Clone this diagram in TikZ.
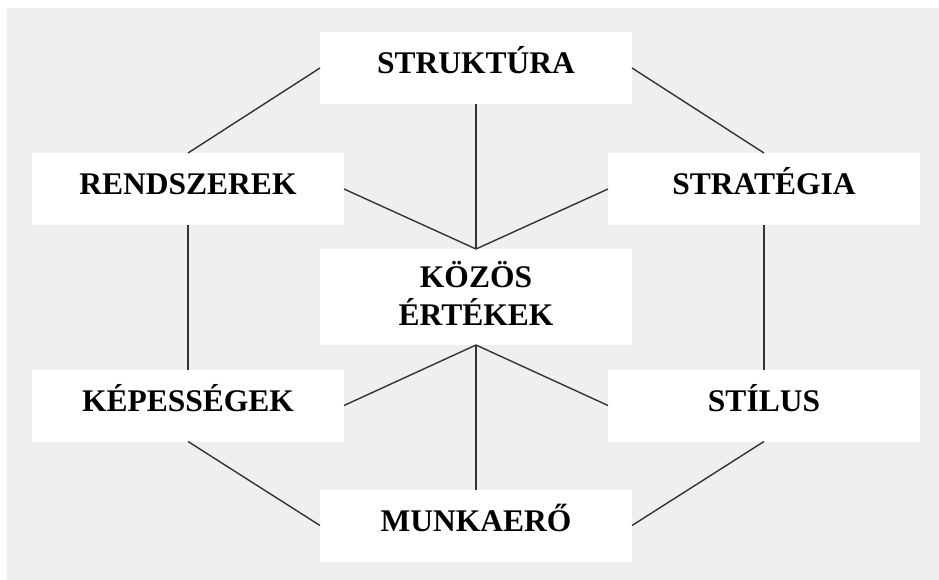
\documentclass[tikz,border=0pt]{standalone}
\usepackage{fontspec}
\setmainfont{Liberation Serif}
\usepackage{tikz}
\usetikzlibrary{positioning}

\definecolor{bggray}{HTML}{EFEFEF}
\definecolor{linegray}{HTML}{333333}

\begin{document}
\begin{tikzpicture}
	[x=1pt, y=-1pt, on grid,
	 box/.style = {fill=white, inner sep=0pt, outer sep=0pt, minimum width=312pt, minimum height=72pt,
	               text height=22pt, text depth=10pt,
	               align=center, font=\fontsize{31.5}{38}\selectfont\bfseries},
	 conn/.style = {draw=linegray, line width=1.4pt}]
   \useasboundingbox (0,0) rectangle (939,580);
   \fill[bggray] (7,8) rectangle (939,580);
   % center and the six around it
   \node[box, minimum height=96pt, text height=60pt, text depth=4pt] (kozos) at (476,297) {KÖZÖS\\ÉRTÉKEK};
   \node[box, above=229pt of kozos] (struktura) {STRUKTÚRA};
   \node[box, above left=108pt and 288pt of kozos] (rendszerek) {RENDSZEREK};
   \node[box, above right=108pt and 288pt of kozos] (strategia) {STRATÉGIA};
   \node[box, below left=108.5pt and 288pt of kozos] (kepessegek) {KÉPESSÉGEK};
   \node[box, below right=108.5pt and 288pt of kozos] (stilus) {STÍLUS};
   \node[box, below=228.5pt of kozos] (munkaero) {MUNKAERŐ};
    \path[conn]
    (struktura.west) edge (rendszerek.north)
    (struktura.east) edge (strategia.north)
    (struktura.south) edge (kozos.north)
    (rendszerek.east) edge (kozos.north)
    (strategia.west) edge (kozos.north)
    (rendszerek.south) edge (kepessegek.north)
    (strategia.south) edge (stilus.north)
    (kozos.south) edge (kepessegek.east)
    (kozos.south) edge (stilus.west)
    (kozos.south) edge (munkaero.north)
    (kepessegek.south) edge (munkaero.west)
    (stilus.south) edge (munkaero.east);
\end{tikzpicture}
\end{document}
